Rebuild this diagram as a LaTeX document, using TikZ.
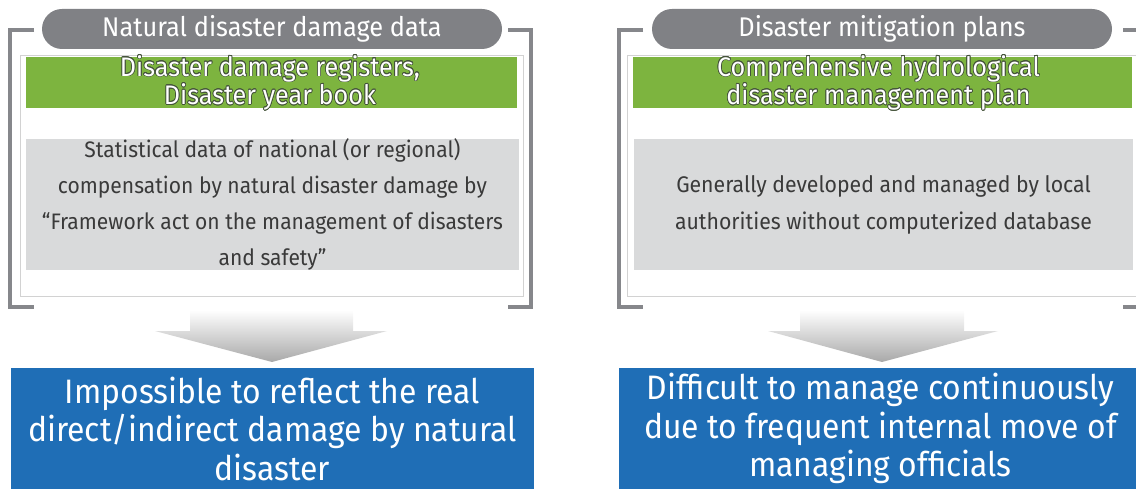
\documentclass[tikz,border=0pt]{standalone}
\usepackage{fontspec}
\setmainfont{Fira Sans}[FakeStretch=0.94]
\usepackage{contour}
\contourlength{0.7pt}
\contournumber{16}
\definecolor{pillgray}{HTML}{808185}
\definecolor{brgray}{HTML}{86878B}
\definecolor{bandgreen}{HTML}{7DB43F}
\definecolor{greenline}{HTML}{44533A}
\definecolor{boxgray}{HTML}{D9DADB}
\definecolor{boxblue}{HTML}{1F6EB6}
\definecolor{txtgray}{HTML}{3A3A3A}
\definecolor{innerline}{HTML}{D2D2D2}
\begin{document}
\begin{tikzpicture}[x=1pt,y=-1pt,
  pill/.style={rectangle, rounded corners=20pt, fill=pillgray, text=white,
    minimum width=460pt, minimum height=40pt, inner sep=0pt,
    font=\fontsize{27}{30}\selectfont},
  bracket/.style={draw=brgray, line width=3.8pt, line join=miter},
  innerbox/.style={rectangle, draw=innerline, line width=1pt, fill=white,
    minimum height=241pt, inner sep=0pt},
  band/.style={rectangle, fill=bandgreen, minimum height=51pt, inner sep=0pt},
  bandtext/.style={text=white, align=center, inner sep=0pt,
    font=\fontsize{26.8}{27}\selectfont},
  graybox/.style={rectangle, fill=boxgray, text=txtgray, align=center,
    minimum height=131pt, inner sep=0pt},
  bluebox/.style={rectangle, fill=boxblue, text=white, align=center,
    minimum height=121pt, inner sep=0pt,
    font=\fontsize{33.9}{38.5}\selectfont},
  blockarrow/.style={top color=white, bottom color=black!34, draw=none}
]
\useasboundingbox (0,0) rectangle (1136,489);
\clip (0,0) rectangle (1136,489);

% ---------------- left panel ----------------
\draw[bracket] (34,30) -- (10,30) -- (10,307) -- (34,307);
\draw[bracket] (508,30) -- (531,30) -- (531,307) -- (508,307);
\node[innerbox, minimum width=503pt] (innerL) at (271.5,176.5) {};
\node[pill] (pillL) at (272,29) {Natural disaster damage data};
\node[band, minimum width=491pt] (bandL) at (271.5,82.5) {};
\node[bandtext] (bandLtext) at (270,83)
  {\contour{greenline}{Disaster damage registers,}\\\contour{greenline}{Disaster year book}};
\node[graybox, minimum width=493pt, font=\fontsize{22.4}{36}\selectfont] (grayL) at (272.5,204.5)
  {Statistical data of national (or regional)\\
   compensation by natural disaster damage by\\
   “Framework act on the management of disasters\\
   and safety”};
\node[bluebox, minimum width=523pt] (blueL) at (272.5,428.5)
  {Impossible to reflect the real\\direct/indirect damage by natural\\disaster};
\coordinate (tipL) at (272,362);
\shade[blockarrow] (190,310) -- (353,310) -- (353,331) -- (387,331)
  -- (tipL) -- (155,331) -- (190,331) -- cycle;

% ---------------- right panel ----------------
\draw[bracket] (643,30) -- (619,30) -- (619,307) -- (643,307);
\draw[bracket] (1123,30) -- (1142,30) -- (1142,307) -- (1123,307);
\node[innerbox, minimum width=513pt] (innerR) at (883.5,176.5) {};
\node[pill] (pillR) at (882,29) {Disaster mitigation plans};
\node[band, minimum width=499pt] (bandR) at (882.5,82.5) {};
\node[bandtext] (bandRtext) at (878.5,83)
  {\contour{greenline}{Comprehensive hydrological}\\\contour{greenline}{disaster management plan}};
\node[graybox, minimum width=499pt, font=\fontsize{22.6}{37}\selectfont] (grayR) at (883.5,204.5)
  {Generally developed and managed by local\\
   authorities without computerized database};
\node[bluebox, minimum width=523pt] (blueR) at (880.5,428.5)
  {Difficult to manage continuously\\due to frequent internal move of\\managing officials};
\coordinate (tipR) at (882,362);
\shade[blockarrow] (800,310) -- (964,310) -- (964,331) -- (998,331)
  -- (tipR) -- (768,331) -- (800,331) -- cycle;
\end{tikzpicture}
\end{document}
